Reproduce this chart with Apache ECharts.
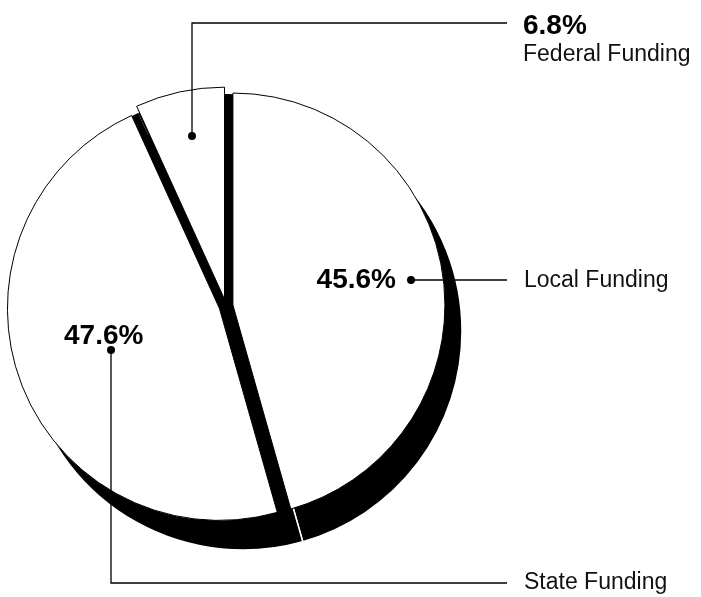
<!DOCTYPE html>
<html>
<head>
<meta charset="utf-8">
<script src="https://cdn.jsdelivr.net/npm/echarts@6/dist/echarts.min.js"></script>
<style>
  html, body { margin: 0; padding: 0; background: #fff; }
  #myChart { width: 701px; height: 597px; }
</style>
</head>
<body>
<div id="myChart"></div>
<script>
// funding shares, clockwise from 12 o'clock
const categories = ['Local Funding', 'State Funding', 'Federal Funding']
const shares = [45.6, 47.6, 6.8]

const pieCenter = [226, 306]
const pieRadius = 212

// where the labels and leader lines go (pixels)
const pctPos = [
  { x: 396, y: 280, align: 'right' },
  { x: 64, y: 336, align: 'left' },
  null
]
const namePos = [
  { x: 524, y: 281, line: [[411, 280], [460, 280], [507, 280]] },
  { x: 524, y: 583, line: [[111, 350], [111, 583], [507, 583]] },
  { x: 523, y: 10, line: [[192, 136], [192, 23], [507, 23]] }
]

const myChart = echarts.init(document.getElementById('myChart'))

const items = categories.map((name, i) => ({ name: name, value: shares[i] }))

myChart.setOption({
  animation: false,
  textStyle: { fontFamily: 'Liberation Sans, Arial, sans-serif' },
  series: [
    {
      // depth of the pie, seen under the lower edge
      type: 'pie',
      silent: true,
      z: 1,
      center: [pieCenter[0] + 17, pieCenter[1] + 25],
      radius: pieRadius + 7,
      startAngle: 90,
      label: { show: false },
      labelLine: { show: false },
      itemStyle: { color: '#000', borderColor: '#fff', borderWidth: 1.5 },
      data: items
    },
    {
      // black under the gaps between slices
      type: 'pie',
      silent: true,
      z: 1,
      center: pieCenter,
      radius: pieRadius,
      startAngle: 90,
      label: { show: false },
      labelLine: { show: false },
      itemStyle: { color: '#000' },
      data: items
    },
    {
      // white slices, pulled apart a little
      type: 'pie',
      silent: true,
      z: 2,
      center: pieCenter,
      radius: pieRadius,
      startAngle: 90,
      selectedMode: 'multiple',
      selectedOffset: 7,
      itemStyle: { color: '#fff', borderColor: '#000', borderWidth: 1 },
      label: { show: false },
      labelLine: { show: false },
      data: items.map((d) => ({ name: d.name, value: d.value, selected: true }))
    },
    {
      // percentages next to the dots
      type: 'pie',
      silent: true,
      z: 5,
      center: pieCenter,
      radius: pieRadius,
      startAngle: 90,
      itemStyle: { color: 'rgba(0,0,0,0)' },
      labelLine: { show: false },
      label: {
        show: true,
        position: 'outside',
        overflow: 'none',
        formatter: (p) => p.value + '%',
        color: '#000',
        fontSize: 28,
        fontWeight: 'bold'
      },
      labelLayout: (params) => {
        const pos = pctPos[params.dataIndex]
        if (!pos) return {}
        return { x: pos.x, y: pos.y, align: pos.align, verticalAlign: 'middle' }
      },
      data: items.map((d, i) => ({
        name: d.name,
        value: d.value,
        label: { show: pctPos[i] !== null }
      }))
    },
    {
      // names and leader lines
      type: 'pie',
      silent: true,
      z: 6,
      center: pieCenter,
      radius: pieRadius,
      startAngle: 90,
      itemStyle: { color: 'rgba(0,0,0,0)' },
      label: {
        show: true,
        position: 'outside',
        overflow: 'none',
        color: '#111',
        formatter: (p) => {
          if (p.dataIndex === 2) return '{p|' + p.value + '%}\n{n|' + p.name + '}'
          return '{n|' + p.name + '}'
        },
        rich: {
          p: { fontSize: 28, fontWeight: 'bold', color: '#000', lineHeight: 32 },
          n: { fontSize: 23, color: '#111', lineHeight: 26 }
        }
      },
      labelLine: {
        show: true,
        lineStyle: { color: '#000', width: 1.3 }
      },
      labelLayout: (params) => {
        const pos = namePos[params.dataIndex]
        return {
          x: pos.x,
          y: pos.y,
          align: 'left',
          verticalAlign: params.dataIndex === 2 ? 'top' : 'middle',
          labelLinePoints: pos.line
        }
      },
      data: items
    }
  ],
  // dots at the inner ends of the leader lines
  graphic: namePos.map((pos) => ({
    type: 'circle',
    shape: { cx: pos.line[0][0], cy: pos.line[0][1], r: 4 },
    style: { fill: '#000' },
    z: 100
  }))
})
</script>
</body>
</html>
